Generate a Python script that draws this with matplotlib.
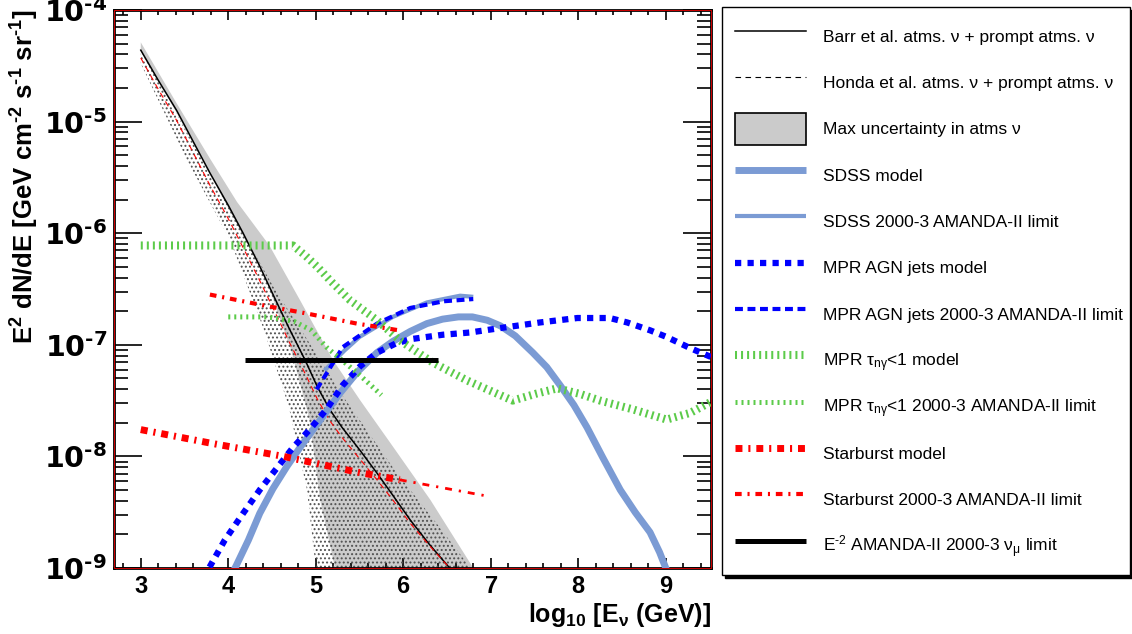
import numpy as np
import matplotlib
matplotlib.use('Agg')
import matplotlib.pyplot as plt
from matplotlib.lines import Line2D
from matplotlib.patches import Patch, Rectangle
from matplotlib.ticker import FixedLocator, FuncFormatter, LogLocator, NullFormatter

plt.rcParams['font.family'] = ['Liberation Sans', 'DejaVu Sans']
plt.rcParams['mathtext.fontset'] = 'custom'
plt.rcParams['mathtext.rm'] = 'Liberation Sans'
plt.rcParams['mathtext.it'] = 'Liberation Sans:italic'
plt.rcParams['mathtext.bf'] = 'Liberation Sans:bold'
plt.rcParams['mathtext.sf'] = 'DejaVu Sans:bold'
plt.rcParams['mathtext.default'] = 'regular'
plt.rcParams['hatch.linewidth'] = 0.9

HY = '\u2010'  # short hyphen for exponents (mathtext turns '-' into a long minus)

# all fluxes are log10(E^2 dN/dE / GeV cm^-2 s^-1 sr^-1), energies log10(E/GeV)

# atmospheric neutrinos
barr_x = [3.0, 3.2, 3.41, 3.6, 3.79, 4.0, 4.17, 4.35, 4.53, 4.7, 4.88, 5.02,
          5.16, 5.3, 5.5, 5.7, 5.9, 6.08, 6.3, 6.53, 6.6]
barr_y = [-4.36, -4.63, -4.90, -5.18, -5.46, -5.75, -6.0, -6.28, -6.58, -6.86,
          -7.14, -7.38, -7.58, -7.74, -7.94, -8.15, -8.37, -8.57, -8.79, -9.0, -9.07]
honda_y = [-4.43, -4.71, -4.99, -5.28, -5.57, -5.87, -6.13, -6.41, -6.70, -6.98,
           -7.26, -7.49, -7.68, -7.83, -8.02, -8.21, -8.41, -8.60, -8.80, -9.0, -9.07]

# max uncertainty band on atmospheric flux
band_hi_x = [3.0, 3.39, 3.79, 4.10, 4.47, 4.82, 5.20, 5.51, 5.88, 6.31, 6.80, 6.99]
band_hi_y = [-4.29, -4.81, -5.33, -5.72, -6.11, -6.60, -7.14, -7.50, -7.91, -8.39, -9.0, -9.2]
band_lo_x = [3.0, 3.41, 3.79, 4.17, 4.44, 4.72, 4.93, 5.05, 5.22, 5.30]
band_lo_y = [-4.37, -4.92, -5.47, -6.02, -6.43, -7.05, -7.67, -8.39, -9.0, -9.3]

# second (dotted) uncertainty band
dots_hi_x = [3.0, 3.79, 4.17, 4.53, 4.9, 5.3, 5.9, 6.38, 6.77, 6.95]
dots_hi_y = [-4.36, -5.46, -6.0, -6.5, -6.95, -7.45, -8.12, -8.6, -9.0, -9.2]
dots_lo_x = [3.0, 3.52, 4.02, 4.40, 4.69, 4.90, 5.0, 5.05]
dots_lo_y = [-4.48, -5.33, -6.06, -6.85, -7.55, -8.3, -9.0, -9.3]

# SDSS
sdss_x = [4.04, 4.09, 4.23, 4.36, 4.51, 4.67, 4.82, 4.97, 5.13, 5.28, 5.48, 5.70,
          5.88, 6.08, 6.27, 6.45, 6.63, 6.79, 6.96, 7.11, 7.28, 7.48, 7.64, 7.79,
          7.95, 8.10, 8.28, 8.48, 8.65, 8.82, 8.93, 9.0, 9.05]
sdss_y = [-9.06, -8.98, -8.75, -8.51, -8.29, -8.09, -7.92, -7.76, -7.59, -7.43,
          -7.24, -7.07, -6.97, -6.88, -6.81, -6.77, -6.75, -6.75, -6.78, -6.83,
          -6.92, -7.07, -7.20, -7.36, -7.54, -7.74, -8.01, -8.30, -8.50, -8.68,
          -8.86, -9.0, -9.09]
sdss_lim_x = [5.10, 5.33, 5.50, 5.88, 6.27, 6.65, 6.80]
sdss_lim_y = [-7.23, -7.05, -6.93, -6.75, -6.62, -6.56, -6.57]

# MPR AGN jets
agn_x = [3.68, 3.78, 3.96, 4.17, 4.36, 4.56, 4.74, 4.93, 5.12, 5.31, 5.51, 5.70,
         5.91, 6.08, 6.45, 6.76, 7.11, 7.56, 7.99, 8.36, 8.56, 8.82, 9.01, 9.28, 9.52]
agn_y = [-9.20, -9.0, -8.75, -8.51, -8.30, -8.10, -7.92, -7.76, -7.58, -7.36,
         -7.19, -7.07, -6.99, -6.95, -6.91, -6.89, -6.85, -6.80, -6.76, -6.76,
         -6.80, -6.87, -6.93, -7.03, -7.11]
agn_lim_x = [5.01, 5.31, 5.70, 6.08, 6.46, 6.80]
agn_lim_y = [-7.40, -7.02, -6.81, -6.67, -6.61, -6.59]

# MPR tau < 1
mpr_x = [3.0, 4.74, 4.88, 5.03, 5.16, 5.39, 5.70, 5.96, 6.34, 6.73, 6.99, 7.25,
         7.51, 7.76, 8.02, 8.25, 8.63, 9.01, 9.28, 9.52]
mpr_y = [-6.11, -6.11, -6.20, -6.31, -6.42, -6.60, -6.78, -6.96, -7.16, -7.32,
         -7.41, -7.50, -7.44, -7.39, -7.44, -7.50, -7.58, -7.67, -7.61, -7.51]
mpr_lim_x = [4.0, 4.45, 4.75, 4.95, 5.12, 5.5, 5.75]
mpr_lim_y = [-6.75, -6.75, -6.79, -6.87, -7.02, -7.27, -7.45]

# starburst
sb_x = [3.0, 3.79, 4.63, 5.47, 5.96]
sb_y = [-7.76, -7.88, -8.0, -8.14, -8.21]
sb_tail_x = [5.96, 6.99]
sb_tail_y = [-8.21, -8.36]
sb_lim_x = [3.79, 4.36, 4.90, 5.47, 5.95]
sb_lim_y = [-6.55, -6.64, -6.72, -6.81, -6.87]

# E^-2 limit
e2_x = [4.19, 6.40]
e2_y = [-7.14, -7.14]

x_ticks = [3, 4, 5, 6, 7, 8, 9]
y_decades = [-9, -8, -7, -6, -5, -4]

SDSS_C = '#7b9bd4'
AGN_C = '#0000ff'
MPR_C = '#5ccb4a'
SB_C = '#ff0000'


def flux(v):
    return 10.0 ** np.asarray(v)


def decade_label(v, pos):
    return r'$\mathsf{10^{%s%d}}$' % (HY, abs(round(np.log10(v))))


fig = plt.figure(figsize=(11.32, 6.34), dpi=100)
ax = fig.add_axes([114 / 1132, 1 - 568 / 634, 597 / 1132, 558 / 634])
ax.set_yscale('log')
ax.set_xlim(2.694, 9.517)
ax.set_ylim(1e-9, 1e-4)

# uncertainty bands
ax.fill(np.r_[band_hi_x, band_lo_x[::-1]], flux(np.r_[band_hi_y, band_lo_y[::-1]]),
        facecolor='#cbcbcb', edgecolor='none', zorder=1)
ax.fill(np.r_[dots_hi_x, dots_lo_x[::-1]], flux(np.r_[dots_hi_y, dots_lo_y[::-1]]),
        facecolor='none', edgecolor='#505050', hatch='....', linewidth=0, zorder=2)

ax.plot(barr_x, flux(barr_y), color='black', lw=1.1, zorder=3)
ax.plot(barr_x, flux(honda_y), color='red', lw=0.8, dashes=(5, 4), zorder=3)

ax.plot(sdss_x, flux(sdss_y), color=SDSS_C, lw=5, solid_capstyle='butt',
        solid_joinstyle='round', zorder=4)
ax.plot(sdss_lim_x, flux(sdss_lim_y), color=SDSS_C, lw=3, solid_capstyle='butt',
        solid_joinstyle='round', zorder=4)

ax.plot(agn_x, flux(agn_y), color=AGN_C, lw=4.5, dashes=(1, 1), zorder=5)
ax.plot(agn_lim_x, flux(agn_lim_y), color=AGN_C, lw=3, dashes=(1.9, 1.1), zorder=5)

ax.plot(mpr_x, flux(mpr_y), color=MPR_C, lw=5.8, dashes=(0.25, 0.5), zorder=5)
ax.plot(mpr_lim_x, flux(mpr_lim_y), color=MPR_C, lw=3.6, dashes=(0.4, 0.8), zorder=5)

ax.plot(sb_x, flux(sb_y), color=SB_C, lw=5, dashes=(1, 0.85, 0.3, 0.85), zorder=6)
ax.plot(sb_tail_x, flux(sb_tail_y), color=SB_C, lw=2, dashes=(2.5, 2.5, 0.8, 2.5), zorder=6)
ax.plot(sb_lim_x, flux(sb_lim_y), color=SB_C, lw=3, dashes=(1.6, 1.4, 0.5, 1.4), zorder=6)

ax.plot(e2_x, flux(e2_y), color='black', lw=3.6, solid_capstyle='butt', zorder=7)

# axes styling
ax.xaxis.set_major_locator(FixedLocator(x_ticks))
ax.xaxis.set_minor_locator(FixedLocator(np.arange(2.8, 9.6, 0.2)))
ax.xaxis.set_major_formatter(FuncFormatter(lambda v, p: r'$\mathbf{%d}$' % v))
ax.yaxis.set_major_locator(FixedLocator(flux(y_decades)))
ax.yaxis.set_minor_locator(LogLocator(base=10, subs=np.arange(2, 10), numticks=20))
ax.yaxis.set_minor_formatter(NullFormatter())
ax.yaxis.set_major_formatter(FuncFormatter(decade_label))

ax.tick_params(axis='both', which='both', direction='in', top=True, right=True,
               colors='black', width=1.2)
ax.tick_params(axis='y', which='major', length=20, labelsize=20.5, pad=5)
ax.tick_params(axis='y', which='minor', length=10)
ax.tick_params(axis='x', which='major', length=7, labelsize=17, pad=6)
ax.tick_params(axis='x', which='minor', length=3.6)

for s in ax.spines.values():
    s.set_linewidth(2)
    s.set_color('black')
ax.add_patch(Rectangle((0, 0), 1, 1, transform=ax.transAxes, fill=False,
                       edgecolor='#d00000', lw=0.7, zorder=10, clip_on=False))

ax.set_xlabel(r'log$_{\mathbf{10}}$ [E$_{\nu}$ (GeV)]', fontsize=18,
              fontweight='bold', loc='right', labelpad=2)
ax.set_ylabel(r'E$^{\mathbf{2}}$ dN/dE [GeV cm$^{\mathbf{%s2}}$ s$^{\mathbf{%s1}}$ sr$^{\mathbf{%s1}}$]'
              % (HY, HY, HY), fontsize=18.5, fontweight='bold', loc='top', labelpad=2)

handles = [
    Line2D([], [], color='black', lw=1.1),
    Line2D([], [], color='black', lw=0.8, dashes=(5, 4)),
    Patch(facecolor='#cbcbcb', edgecolor='black', lw=1.2),
    Line2D([], [], color=SDSS_C, lw=5, solid_capstyle='butt'),
    Line2D([], [], color=SDSS_C, lw=3, solid_capstyle='butt'),
    Line2D([], [], color=AGN_C, lw=4.5, dashes=(1, 1)),
    Line2D([], [], color=AGN_C, lw=3, dashes=(1.9, 1.1)),
    Line2D([], [], color=MPR_C, lw=5.8, dashes=(0.25, 0.5)),
    Line2D([], [], color=MPR_C, lw=3.6, dashes=(0.4, 0.8)),
    Line2D([], [], color=SB_C, lw=5, dashes=(1, 0.85, 0.3, 0.85)),
    Line2D([], [], color=SB_C, lw=3, dashes=(1.6, 1.4, 0.5, 1.4)),
    Line2D([], [], color='black', lw=3.6, solid_capstyle='butt'),
]
labels = [
    'Barr et al. atms. ν + prompt atms. ν',
    'Honda et al. atms. ν + prompt atms. ν',
    'Max uncertainty in atms ν',
    'SDSS model',
    'SDSS 2000-3 AMANDA-II limit',
    'MPR AGN jets model',
    'MPR AGN jets 2000-3 AMANDA-II limit',
    r'MPR $\tau_{n\gamma}$<1 model',
    r'MPR $\tau_{n\gamma}$<1 2000-3 AMANDA-II limit',
    'Starburst model',
    'Starburst 2000-3 AMANDA-II limit',
    r'E$^{%s2}$ AMANDA-II 2000-3 $\nu_{\mu}$ limit' % HY,
]
leg = fig.legend(handles, labels, loc='upper left',
                 bbox_to_anchor=(722 / 1132, 0, 408 / 1132, 1 - 7 / 634), mode='expand',
                 borderaxespad=0, fontsize=12.5, frameon=True, fancybox=False,
                 shadow={'color': 'black', 'alpha': 1}, handlelength=4.1,
                 handleheight=2.5, handletextpad=0.95, labelspacing=0.8,
                 borderpad=0.75)
leg.get_frame().set_edgecolor('black')
leg.get_frame().set_linewidth(1.0)

fig.savefig('out.png', dpi=100)
